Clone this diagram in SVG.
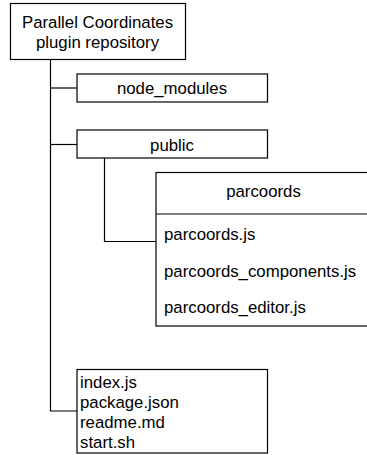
<svg xmlns="http://www.w3.org/2000/svg" width="367" height="455" viewBox="0 0 367 455">
<style>
.box{fill:#fff;stroke:#000;stroke-width:1.2}
.ln{fill:none;stroke:#000;stroke-width:1.2}
text{font-family:"Liberation Sans",Arial,sans-serif;font-size:16.8px;fill:#000}
.c{text-anchor:middle}
</style>
<rect width="367" height="455" fill="#fff"/>
<g id="connectors">
<polyline class="ln" points="50.5,59 50.5,411 77,411"/>
<line class="ln" x1="50.5" y1="88" x2="77" y2="88"/>
<line class="ln" x1="50.5" y1="144.5" x2="77" y2="144.5"/>
<polyline class="ln" points="104.5,158 104.5,241.5 156,241.5"/>
</g>
<g id="root">
<rect class="box" x="10.5" y="3.5" width="175" height="56"/>
<text class="c" x="97.5" y="27.5">Parallel Coordinates</text>
<text class="c" x="97.5" y="48">plugin repository</text>
</g>
<g id="node_modules">
<rect class="box" x="77" y="74" width="190.5" height="28"/>
<text class="c" x="172" y="94">node_modules</text>
</g>
<g id="public">
<rect class="box" x="77" y="130" width="190.5" height="28"/>
<text class="c" x="172" y="150.5">public</text>
</g>
<g id="parcoords">
<rect class="box" x="156" y="172.5" width="215" height="153.5"/>
<line class="ln" x1="156" y1="214" x2="371" y2="214"/>
<text class="c" x="263.5" y="197">parcoords</text>
<text x="164" y="240">parcoords.js</text>
<text x="164" y="276.5">parcoords_components.js</text>
<text x="164" y="312.5">parcoords_editor.js</text>
</g>
<g id="files">
<rect class="box" x="77" y="369.5" width="190.5" height="83.5"/>
<text x="80" y="387.5">index.js</text>
<text x="80" y="407.5">package.json</text>
<text x="80" y="427.5">readme.md</text>
<text x="80" y="447.5">start.sh</text>
</g>
</svg>
